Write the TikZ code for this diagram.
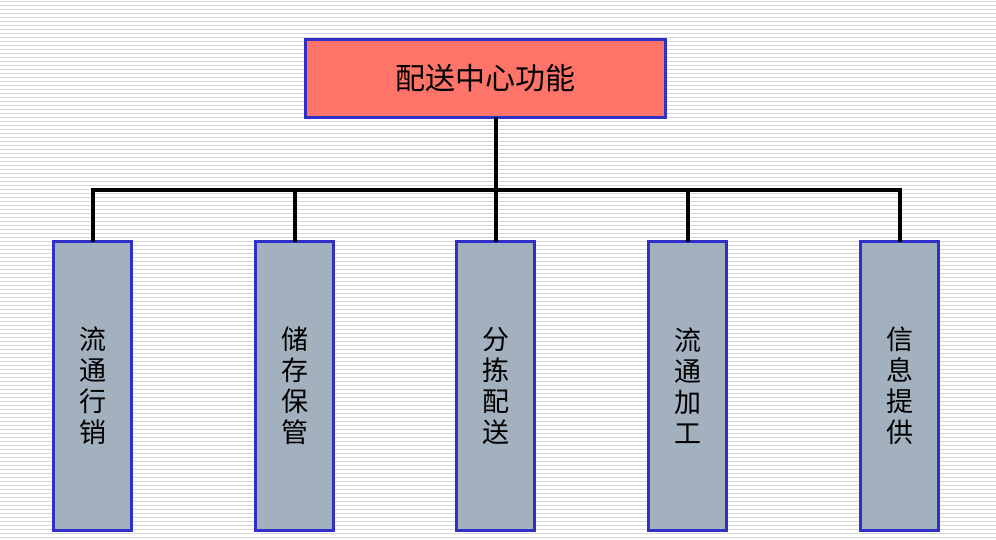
\documentclass[tikz,border=0pt]{standalone}
\usepackage{fontspec}
\newfontfamily\cjk{Noto Sans CJK SC}
\definecolor{salmon}{HTML}{FF7468}
\definecolor{bborder}{HTML}{3030C8}
\definecolor{gfill}{HTML}{A3B0BE}
\definecolor{stripe}{HTML}{D6D6D6}
\begin{document}
\begin{tikzpicture}[x=1pt,y=-1pt,
  topbox/.style={draw=bborder,line width=3pt,fill=salmon,minimum width=360pt,minimum height=78pt,inner sep=0pt,font=\cjk\fontsize{30}{32}\selectfont},
  childbox/.style={draw=bborder,line width=3pt,fill=gfill,minimum width=78pt,minimum height=289pt,inner sep=0pt,font=\cjk\fontsize{27}{31}\selectfont,align=center},
  conn/.style={line width=4pt,line cap=rect}]
\fill[white] (0,0) rectangle (996,539);
\useasboundingbox (0,0) rectangle (996,539);
\foreach \i in {0,...,134}{\draw[stripe,line width=0.9pt] (0,{\i*4+1.5}) -- (996,{\i*4+1.5});}
\node[topbox] (top) at (485.5,78.5) {配送中心功能};
\node[childbox] (c1) at (92.5,386) {流\\通\\行\\销};
\node[childbox] (c2) at (294.5,386) {储\\存\\保\\管};
\node[childbox] (c3) at (495.5,386) {分\\拣\\配\\送};
\node[childbox] (c4) at (687.5,386) {流\\通\\加\\工};
\node[childbox] (c5) at (899.5,386) {信\\息\\提\\供};
\coordinate (j) at (495.5,190);
\draw[conn] (top.south -| j) -- (j);
\draw[conn] (c1.north) -- (c1.north |- j) -- (c5.north |- j) -- (c5.north);
\foreach \c in {c2,c3,c4}{\draw[conn] (\c.north) -- (\c.north |- j);}
\end{tikzpicture}
\end{document}
